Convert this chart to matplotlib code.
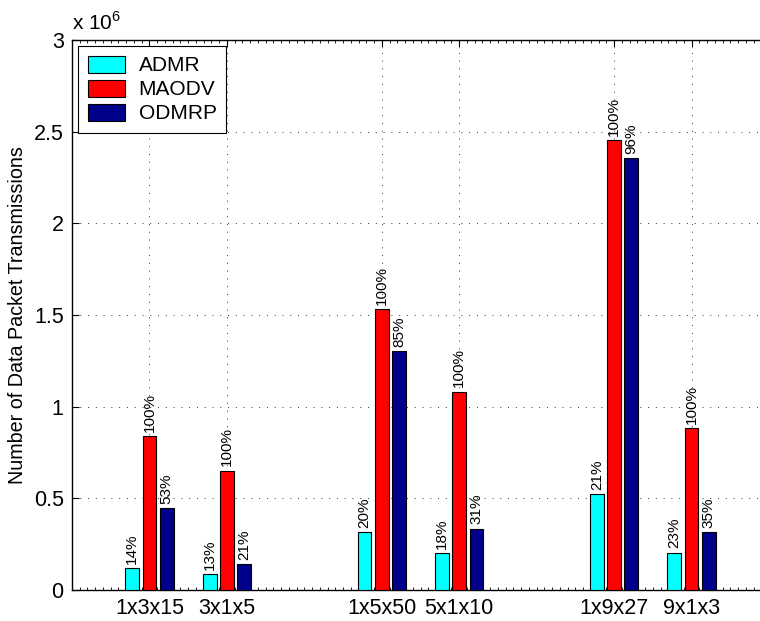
#!/usr/bin/env python3
import numpy as np
import matplotlib
matplotlib.use('Agg')
import matplotlib.pyplot as plt
from matplotlib.ticker import FuncFormatter, MultipleLocator

plt.rcParams['font.family'] = ['Liberation Sans', 'DejaVu Sans']
plt.rcParams['mathtext.fontset'] = 'custom'
plt.rcParams['mathtext.rm'] = 'Liberation Sans'

# data (positions 3 and 6 are empty gaps in the original, drawn as zero bars)
tick_labels = ['1x3x15', '3x1x5', '', '1x5x50', '5x1x10', '', '1x9x27', '9x1x3']
series = ['ADMR', 'MAODV', 'ODMRP']
admr = [118000, 87000, 0, 315000, 200000, 0, 522000, 204000]
maodv = [840000, 651000, 0, 1531000, 1082000, 0, 2453000, 884000]
odmrp = [449000, 140000, 0, 1304000, 335000, 0, 2355000, 316000]
admr_pct = ['14%', '13%', '', '20%', '18%', '', '21%', '23%']
maodv_pct = ['100%', '100%', '', '100%', '100%', '', '100%', '100%']
odmrp_pct = ['53%', '21%', '', '85%', '31%', '', '96%', '35%']
colors = ['#00ffff', '#ff0000', '#00008b']

fig = plt.figure(figsize=(7.6, 6.21), dpi=100)
ax = fig.add_axes([72/760, 31/621, 697/760, 550/621])

x = np.arange(1, len(tick_labels) + 1)
step = 0.2222
width = 0.178
for i, (vals, pcts) in enumerate(zip([admr, maodv, odmrp], [admr_pct, maodv_pct, odmrp_pct])):
    xs = x + (i - 1) * step
    ax.bar(xs, vals, width, color=colors[i], edgecolor='black', linewidth=0.8,
           label=series[i], zorder=3)
    for xi, v, p in zip(xs, vals, pcts):
        if p:
            ax.annotate(p, (xi, v), xytext=(0, 3), textcoords='offset points',
                        rotation=90, ha='center', va='bottom', fontsize=11)

ax.set_xlim(0, 9)
ax.set_ylim(0, 3e6)
shown = [i for i, t in enumerate(tick_labels) if t]
ax.set_xticks(x[shown])
ax.set_xticklabels([tick_labels[i] for i in shown])
ax.set_yticks(np.arange(0, 3.01e6, 0.5e6))
ax.yaxis.set_major_formatter(FuncFormatter(lambda v, p: f'{v/1e6:g}'))
ax.xaxis.set_minor_locator(MultipleLocator(0.1))
ax.tick_params(axis='both', which='major', direction='in', length=5, width=0.8,
               labelsize=15.5, top=True, right=True, pad=6)
ax.tick_params(axis='x', which='minor', direction='in', length=2, width=0.6, top=True)
ax.grid(True, which='major', linestyle=(0, (1, 7)), color='#333333', linewidth=0.7, zorder=0)
ax.set_axisbelow(True)
for s in ax.spines.values():
    s.set_linewidth(1.0)

ax.set_ylabel('Number of Data Packet Transmissions', fontsize=14.2, labelpad=5)
ax.text(0.0, 1.012, r'x $10^{6}$', transform=ax.transAxes, ha='left', va='bottom', fontsize=15)

leg = ax.legend(loc='upper left', fontsize=15, frameon=True, fancybox=False,
                edgecolor='black', framealpha=1, handlelength=1.8, handleheight=0.9,
                labelspacing=0.2, handletextpad=0.65, borderaxespad=0.3, borderpad=0.45)
leg.get_frame().set_linewidth(0.8)

fig.savefig('out.png', dpi=100)
